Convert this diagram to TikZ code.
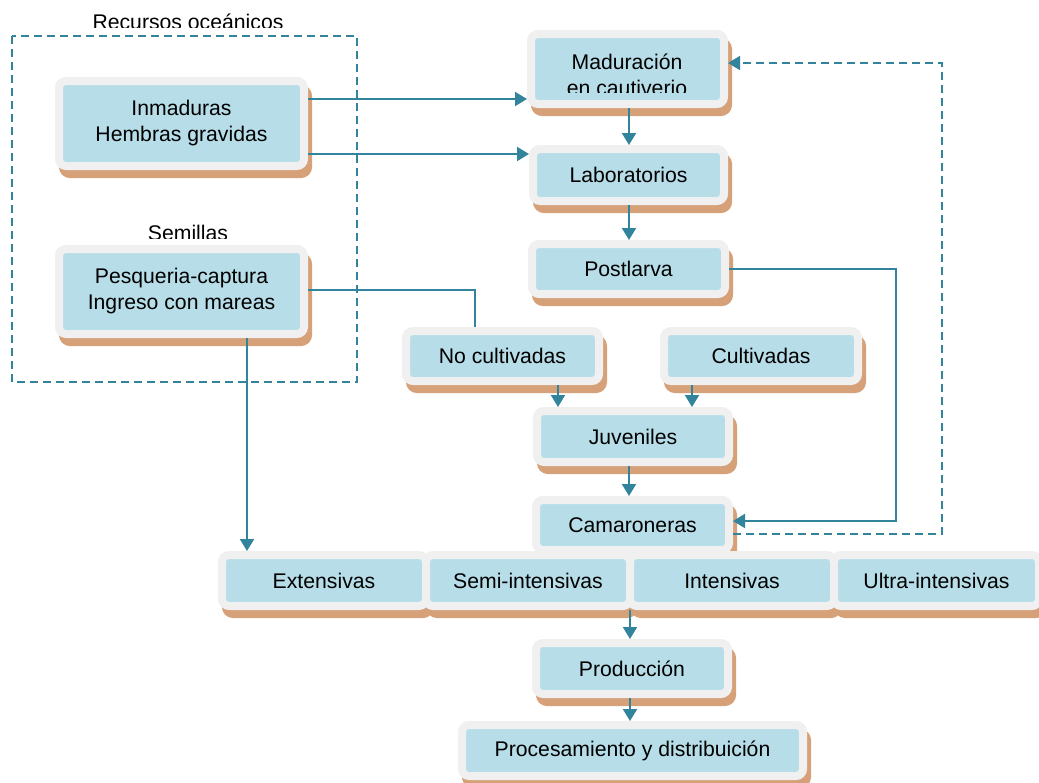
\documentclass[tikz,border=0pt]{standalone}
\usepackage{fontspec}
\setmainfont{Liberation Sans}
\usetikzlibrary{arrows.meta}
\definecolor{teal1}{HTML}{31849B}
\definecolor{boxblue}{HTML}{B7DDE8}
\definecolor{boxgrey}{HTML}{F0F0F0}
\definecolor{shadowc}{HTML}{D6A078}
\tikzset{
 box/.style={draw=boxgrey, fill=boxblue, line width=8pt, outer sep=4pt, rounded corners=7pt, inner sep=0pt, align=center,
   font=\fontsize{21.2}{26}\selectfont,
   preaction={draw=shadowc, fill=shadowc, transform canvas={xshift=4pt,yshift=-8pt}}},
 conn/.style={draw=teal1, line width=2pt, -{Triangle[width=14pt,length=12pt]}},
 plain/.style={draw=teal1, line width=2pt},
 dashline/.style={draw=teal1, line width=1.8pt, dash pattern=on 8pt off 5pt},
 lbl/.style={font=\fontsize{21.2}{26}\selectfont, inner sep=0pt, align=center}
}
\begin{document}
\begin{tikzpicture}[x=1pt,y=-1pt]
\useasboundingbox[fill=white] (0,0) rectangle (1039,782);

% group frame
\draw[dashline] (12,36) rectangle (357,382);
\begin{scope}
\clip (0,0) rectangle (400,27);
\node[lbl, anchor=base] (rec) at (188,29) {Recursos oceánicos};
\end{scope}
\begin{scope}
\clip (0,200) rectangle (400,238);
\node[lbl, anchor=base] (sem) at (188,240) {Semillas};
\end{scope}

% boxes
\node[box, minimum width=245, minimum height=85] (inm) at (181.5,123.5) {Inmaduras\\Hembras gravidas};
\node[box, minimum width=245, minimum height=85] (pesq) at (181.5,291.5) {Pesqueria-captura\\Ingreso con mareas};
\node[box, minimum width=193, minimum height=70] (mad) at (627.5,69) {};
\begin{scope}
\clip (534,37) rectangle (722,92);
\node[lbl] (madtext) at (627,75) {Maduración\\en cautiverio};
\end{scope}
\node[box, minimum width=191, minimum height=52] (lab) at (628.5,175) {Laboratorios};
\node[box, minimum width=193, minimum height=50] (post) at (628.5,269) {Postlarva};
\node[box, minimum width=193, minimum height=50] (nocult) at (502.5,356) {No cultivadas};
\node[box, minimum width=194, minimum height=50] (cult) at (761,356) {Cultivadas};
\node[box, minimum width=192, minimum height=51] (juv) at (633,436.5) {Juveniles};
\node[box, minimum width=193, minimum height=50] (cam) at (632.5,525) {Camaroneras};
\node[box, minimum width=204, minimum height=51] (ext) at (324,580.5) {Extensivas};
\node[box, minimum width=204, minimum height=51] (semi) at (528,580.5) {Semi-intensivas};
\node[box, minimum width=204, minimum height=51] (int) at (732,580.5) {Intensivas};
\node[box, minimum width=205, minimum height=51] (ultra) at (936.5,580.5) {Ultra-intensivas};
\node[box, minimum width=192, minimum height=51] (prod) at (632,668.5) {Producción};
\node[box, minimum width=341, minimum height=51] (proc) at (632.5,750.5) {Procesamiento y distribuición};

% connectors
\coordinate (i1) at (400,99);
\coordinate (i2) at (400,154);
\draw[conn] (inm.east |- i1) -- (mad.west |- i1);
\draw[conn] (inm.east |- i2) -- (lab.west |- i2);
\coordinate (v1) at (629,0);
\draw[conn] (mad.south -| v1) -- (lab.north -| v1);
\draw[conn] (lab.south -| v1) -- (post.north -| v1);
\draw[conn] (juv.south -| v1) -- (cam.north -| v1);
\coordinate (r1) at (896,269);
\coordinate (r2) at (896,521);
\draw[conn] (post.east |- r1) -- (r1) -- (r2) -- (cam.east |- r2);
\coordinate (p1) at (475,290);
\draw[plain] (pesq.east |- p1) -- (p1) -- (p1 |- nocult.north);
\coordinate (p2) at (247,400);
\draw[conn] (pesq.south -| p2) -- (ext.north -| p2);
\coordinate (n1) at (558,0);
\draw[conn] (nocult.south -| n1) -- (juv.north -| n1);
\coordinate (c1) at (692,0);
\draw[conn] (cult.south -| c1) -- (juv.north -| c1);
\coordinate (q1) at (630,0);
\draw[conn] (semi.south -| q1) -- (prod.north -| q1);
\draw[conn] (prod.south -| q1) -- (proc.north -| q1);
\coordinate (d1) at (942,534);
\coordinate (d2) at (942,63);
\draw[dashline, -{Triangle[width=14pt,length=12pt]}] (cam.east |- d1) -- (d1) -- (d2) -- (mad.east |- d2);
\end{tikzpicture}
\end{document}
